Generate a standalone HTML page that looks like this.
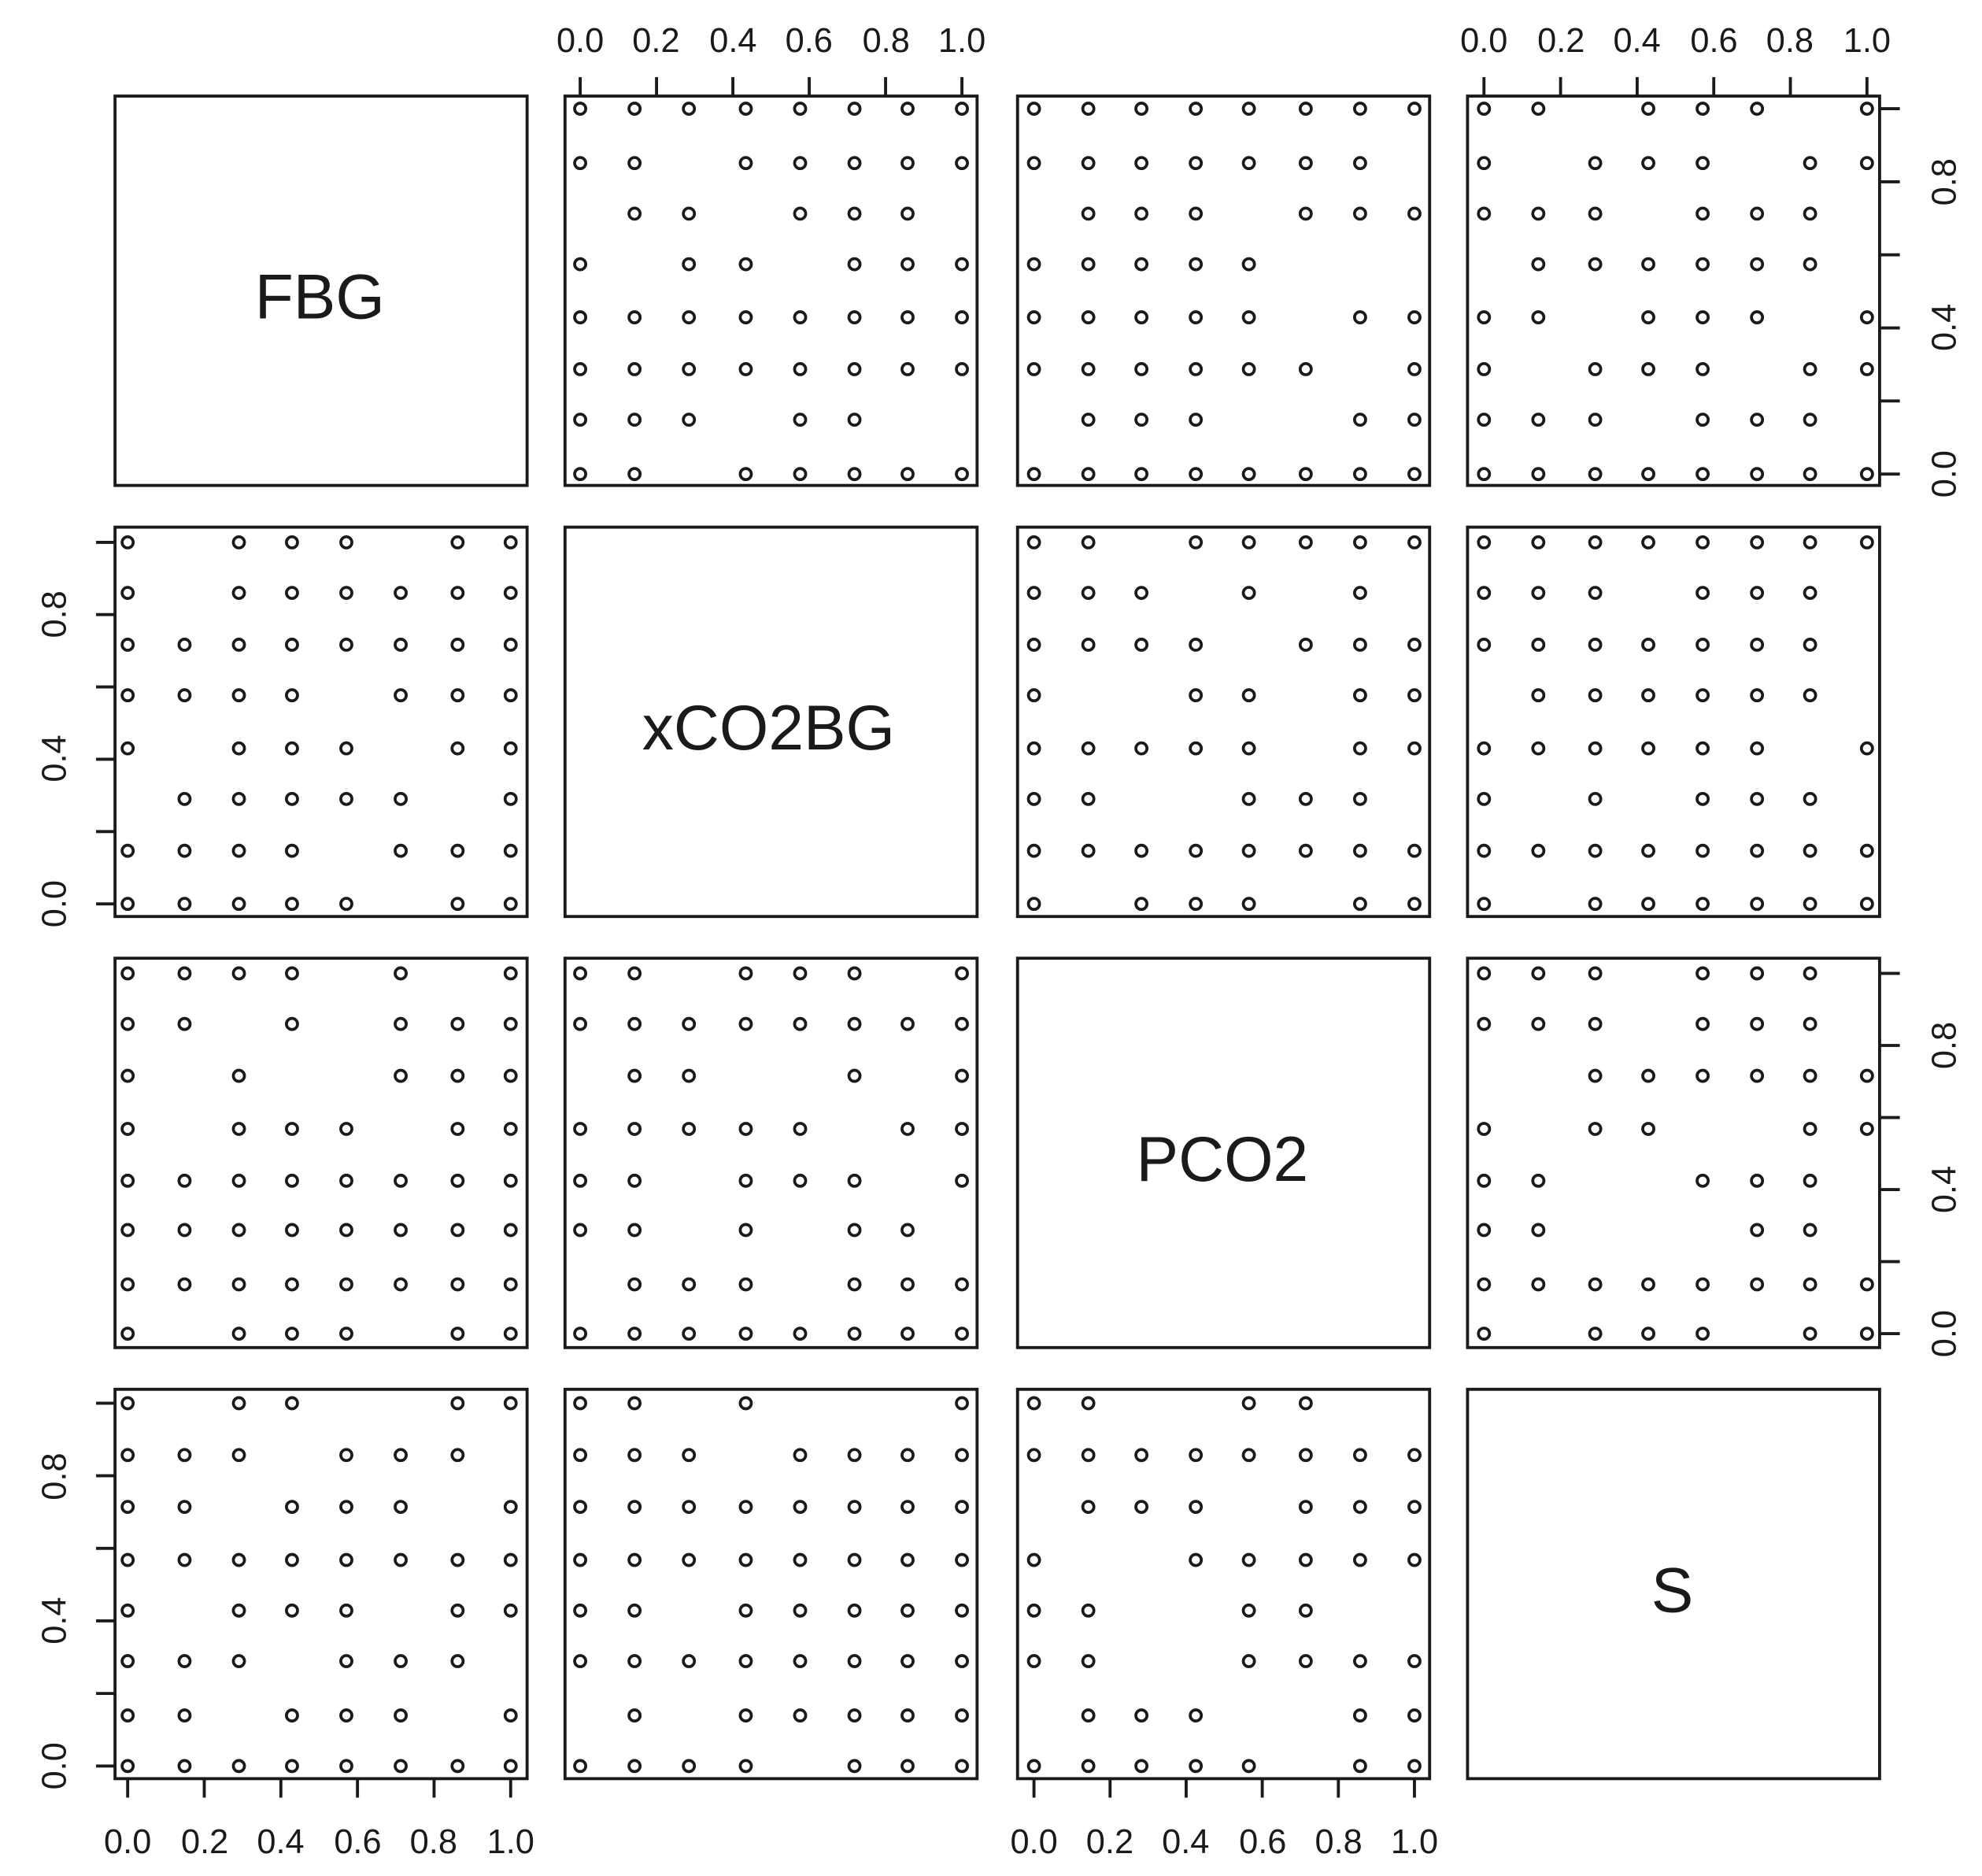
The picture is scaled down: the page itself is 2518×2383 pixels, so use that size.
<!DOCTYPE html>
<html><head><meta charset="utf-8"><style>
html,body{margin:0;padding:0;background:#fff}
svg{display:block}
text{font-family:"Liberation Sans",Arial,sans-serif;fill:#1a1a1a}
</style></head><body>
<svg id="s" width="2518" height="2383" viewBox="0 0 1568 1484" preserveAspectRatio="none">
<g fill="none" stroke="#1a1a1a" stroke-width="2.4">
<rect x="91" y="76" width="326" height="308"/><rect x="447" y="76" width="326" height="308"/><rect x="805" y="76" width="326" height="308"/><rect x="1161" y="76" width="326" height="308"/>
<rect x="91" y="417" width="326" height="308"/><rect x="447" y="417" width="326" height="308"/><rect x="805" y="417" width="326" height="308"/><rect x="1161" y="417" width="326" height="308"/>
<rect x="91" y="758" width="326" height="308"/><rect x="447" y="758" width="326" height="308"/><rect x="805" y="758" width="326" height="308"/><rect x="1161" y="758" width="326" height="308"/>
<rect x="91" y="1099" width="326" height="308"/><rect x="447" y="1099" width="326" height="308"/><rect x="805" y="1099" width="326" height="308"/><rect x="1161" y="1099" width="326" height="308"/>
<g id="axes"></g>
<g id="pts" stroke-width="2.3"></g>
</g>
<g font-size="50" text-anchor="middle">
<text x="253" y="252">FBG</text>
<text x="608" y="593">xCO2BG</text>
<text x="967" y="934">PCO2</text>
<text x="1323" y="1275">S</text>
</g>
<g font-size="27" text-anchor="middle">
<text x="459" y="41">0.0</text><text x="519" y="41">0.2</text><text x="580" y="41">0.4</text><text x="640" y="41">0.6</text><text x="701" y="41">0.8</text><text x="761" y="41">1.0</text>
<text x="1174" y="41">0.0</text><text x="1235" y="41">0.2</text><text x="1295" y="41">0.4</text><text x="1356" y="41">0.6</text><text x="1416" y="41">0.8</text><text x="1477" y="41">1.0</text>
<text x="101" y="1466">0.0</text><text x="162" y="1466">0.2</text><text x="222" y="1466">0.4</text><text x="283" y="1466">0.6</text><text x="343" y="1466">0.8</text><text x="404" y="1466">1.0</text>
<text x="818" y="1466">0.0</text><text x="878" y="1466">0.2</text><text x="938" y="1466">0.4</text><text x="999" y="1466">0.6</text><text x="1059" y="1466">0.8</text><text x="1119" y="1466">1.0</text>
<text transform="translate(1547,375) rotate(-90)">0.0</text><text transform="translate(1547,259) rotate(-90)">0.4</text><text transform="translate(1547,144) rotate(-90)">0.8</text>
<text transform="translate(1547,1055) rotate(-90)">0.0</text><text transform="translate(1547,941) rotate(-90)">0.4</text><text transform="translate(1547,827) rotate(-90)">0.8</text>
<text transform="translate(52,715) rotate(-90)">0.0</text><text transform="translate(52,600) rotate(-90)">0.4</text><text transform="translate(52,486) rotate(-90)">0.8</text>
<text transform="translate(52,1397) rotate(-90)">0.0</text><text transform="translate(52,1282) rotate(-90)">0.4</text><text transform="translate(52,1168) rotate(-90)">0.8</text>
</g>
</svg>
<script>
var NS="http://www.w3.org/2000/svg";
var XS=[[101,146,189,231,274,317,362,404],[459,502,545,590,633,676,718,761],[818,861,903,946,988,1033,1076,1119],[1174,1217,1262,1304,1347,1390,1432,1477]];
var YS=[[86,129,169,209,251,292,332,375],[429,469,510,550,592,632,673,715],[770,810,851,893,934,973,1016,1055],[1110,1151,1192,1234,1274,1314,1357,1397]];
var P={
"0,1":["11111111","11011111","01101110","10110111","11111111","11111111","11101100","11011111"],
"0,2":["11111111","11111110","01110111","11111000","11111011","11111101","01110011","11111111"],
"0,3":["11011101","10111011","11101110","01111110","11011101","10111011","11101110","11111111"],
"1,0":["10111011","10111111","11111111","11110111","10111011","01111101","11110111","11111011"],
"1,2":["11011111","11101010","11110111","10011011","11111011","11001110","11111111","10111011"],
"1,3":["11111111","11101110","11111110","01111110","11111101","10101110","11111111","10111111"],
"2,0":["11110101","11010111","10100111","10111011","11111111","11111111","11111111","10111011"],
"2,1":["11011101","11111111","01100101","11111011","11011101","11010110","01110111","11111111"],
"2,3":["11101110","11101110","00111111","10110011","11001110","11000110","11111111","10111011"],
"3,0":["10110011","11101110","11011101","11111111","10111011","11101110","11011101","11111111"],
"3,1":["11010001","11101111","11111111","11111111","11011111","11111111","01011111","11110111"],
"3,2":["11001100","11111111","01110111","10011111","11001100","11001111","01110011","11111011"]};
var g=document.getElementById("pts");
for(var k in P){var r=+k[0],c=+k[2];for(var i=0;i<8;i++)for(var j=0;j<8;j++)if(P[k][i][j]=="1"){var e=document.createElementNS(NS,"circle");e.setAttribute("cx",XS[c][j]);e.setAttribute("cy",YS[r][i]);e.setAttribute("r",4.4);g.appendChild(e);}}
var a=document.getElementById("axes");
function L(x1,y1,x2,y2){var e=document.createElementNS(NS,"line");e.setAttribute("x1",x1);e.setAttribute("y1",y1);e.setAttribute("x2",x2);e.setAttribute("y2",y2);a.appendChild(e);}
[1,3].forEach(function(c){var x0=XS[c][0],x1=XS[c][7];for(var t=0;t<6;t++){var x=x0+(x1-x0)*t/5;L(x,61,x,76);}});
[0,2].forEach(function(c){var x0=XS[c][0],x1=XS[c][7];for(var t=0;t<6;t++){var x=x0+(x1-x0)*t/5;L(x,1407,x,1422);}});
[0,2].forEach(function(r){var y0=YS[r][7],y1=YS[r][0];for(var t=0;t<6;t++){var y=y0+(y1-y0)*t/5;L(1487,y,1503,y);}});
[1,3].forEach(function(r){var y0=YS[r][7],y1=YS[r][0];for(var t=0;t<6;t++){var y=y0+(y1-y0)*t/5;L(76,y,91,y);}});
</script>
</body></html>
